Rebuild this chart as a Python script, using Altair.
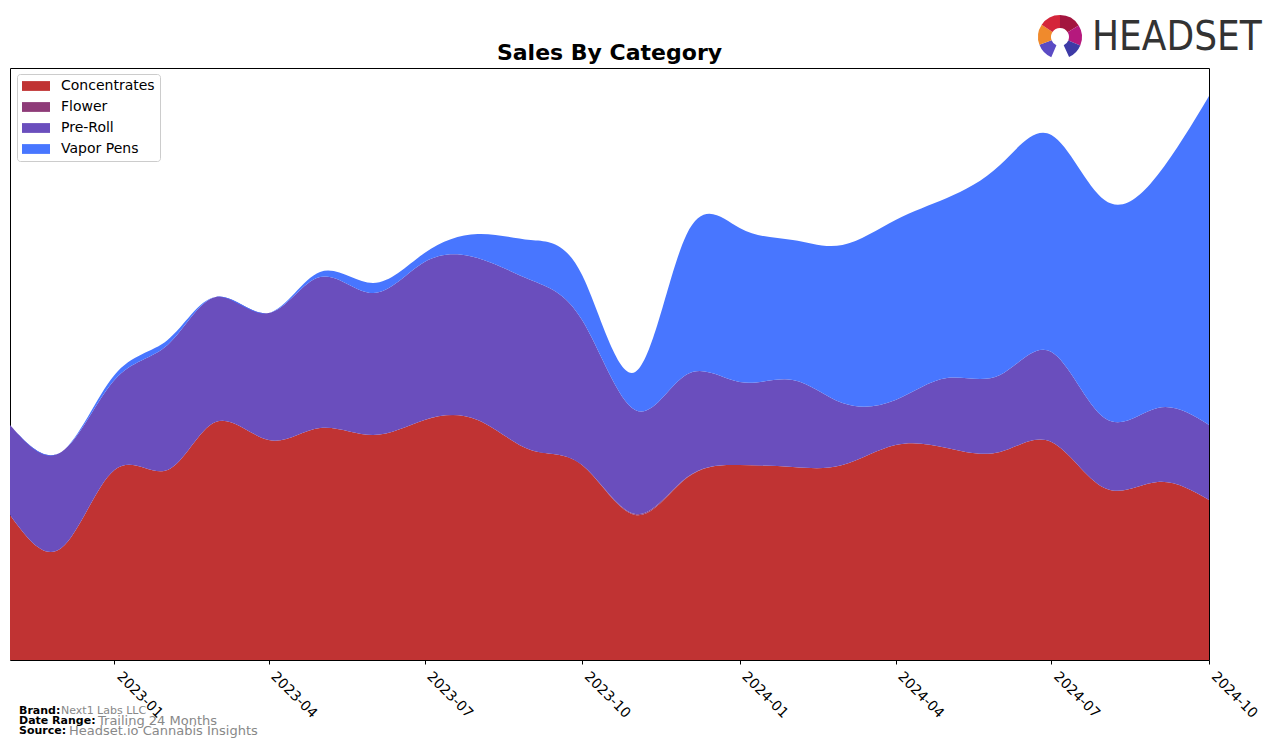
import altair as alt
import pandas as pd

months = ["2022-11-01", "2022-12-01", "2023-01-01", "2023-02-01", "2023-03-01", "2023-04-01",
          "2023-05-01", "2023-06-01", "2023-07-01", "2023-08-01", "2023-09-01", "2023-10-01",
          "2023-11-01", "2023-12-01", "2024-01-01", "2024-02-01", "2024-03-01", "2024-04-01",
          "2024-05-01", "2024-06-01", "2024-07-01", "2024-08-01", "2024-09-01", "2024-10-01"]
categories = ["Concentrates", "Flower", "Pre-Roll", "Vapor Pens"]
colors = ["#C03333", "#8E3B78", "#6A4EBD", "#4876FF"]

concentrates = [145, 112, 190, 190, 238, 220, 232, 225, 240, 240, 210, 195,
                145, 182, 195, 193, 195, 215, 212, 208, 218, 172, 178, 160]
flower = [0, 0, 0, 0, 0, 0, 0, 0, 0, 0, 0, 0,
          1, 0.5, 0, 0, 0, 0, 0, 0, 0, 0, 0, 0]
preroll = [90, 96, 90, 125, 125, 127, 151, 142, 158, 162, 170, 145,
           104, 103, 83, 87, 62, 45, 70, 77, 90, 70, 74, 75]
vapor = [0, 0, 5, 5, 0, 0, 5, 10, 9, 24, 40, 45,
         38, 140, 154, 140, 158, 180, 180, 210, 217, 218, 233, 329]

tick_dates = ["2023-01-01", "2023-04-01", "2023-07-01", "2023-10-01",
              "2024-01-01", "2024-04-01", "2024-07-01", "2024-10-01"]

chart_title = "Sales By Category"
footer_bold = ["Brand:", "Date Range:", "Source:"]
footer_text = ["Next1 Labs LLC", "Trailing 24 Months", "Headset.io Cannabis Insights"]

rows = []
for cat, vals in zip(categories, [concentrates, flower, preroll, vapor]):
    for m, v in zip(months, vals):
        rows.append({"date": m, "category": cat, "sales": v})
df = pd.DataFrame(rows)

W, H = 1199, 592

area = alt.Chart(df).mark_area(interpolate="natural").encode(
    x=alt.X("date:T",
            scale=alt.Scale(type="utc", domain=["2022-11-01", "2024-10-01"], nice=False),
            axis=alt.Axis(values=tick_dates, labelExpr="utcFormat(datum.value, '%Y-%m')",
                          title=None,
                          labelAngle=45, labelAlign="left", labelBaseline="middle",
                          labelFontSize=14, labelColor="black", tickColor="black",
                          tickSize=4, labelPadding=10, domain=False, grid=False,
                          labelOffset=4)),
    y=alt.Y("sales:Q", stack="zero", scale=alt.Scale(domain=[0, 592], nice=False),
            axis=None),
    color=alt.Color("category:N",
                    scale=alt.Scale(domain=categories, range=colors),
                    legend=alt.Legend(title=None, orient="none", legendX=7, legendY=6,
                                      strokeColor="#cccccc", fillColor="white",
                                      cornerRadius=3, padding=5,
                                      symbolType="M-1,-0.7L3,-0.7L3,0.7L-1,0.7Z",
                                      symbolSize=196, symbolStrokeWidth=0,
                                      labelFontSize=14, labelColor="black",
                                      rowPadding=7, labelOffset=25)),
    order=alt.Order("order:Q")
).transform_calculate(
    order="indexof(['Concentrates','Flower','Pre-Roll','Vapor Pens'], datum.category)"
)

title_layer = alt.Chart(pd.DataFrame({"t": [chart_title]})).mark_text(
    align="center", baseline="middle", fontSize=22, fontWeight="bold",
    font="DejaVu Sans", color="black").encode(
    x=alt.value(W / 2), y=alt.value(-15), text="t:N")

fb = pd.DataFrame({"label": footer_bold, "y": [0, 1, 2]})
ft = pd.DataFrame({"label": footer_text, "y": [0, 1, 2],
                   "xoff": [42, 79, 50], "size": [11, 13, 13]})

yscale = alt.Scale(domain=[0, 2], range=[643, 663])

footer_b = alt.Chart(fb).mark_text(align="left", baseline="middle", fontWeight="bold",
                                   fontSize=11, color="black", font="DejaVu Sans").encode(
    x=alt.value(9),
    y=alt.Y("y:Q", scale=yscale, axis=None),
    text="label:N"
)

footer_t = alt.Chart(ft).mark_text(align="left", baseline="middle",
                                   color="#888888", font="DejaVu Sans").encode(
    x=alt.X("xoff:Q", scale=alt.Scale(domain=[0, W], range=[9, 9 + W]), axis=None),
    y=alt.Y("y:Q", scale=yscale, axis=None),
    size=alt.Size("size:Q", scale=None, legend=None),
    text="label:N"
)

logo_text = alt.Chart(pd.DataFrame({"t": ["HEADSET"]})).mark_text(
    align="left", baseline="middle", fontSize=40,
    font="'DejaVu Sans Condensed', 'Liberation Sans Narrow', sans-serif",
    color="#333333").encode(x=alt.value(1082), y=alt.value(-30), text="t:N")

arc_df = pd.DataFrame({
    "t1": [3.55, 4.35, 5.3, 6.283, 7.3, 8.25],
    "t2": [4.35, 5.3, 6.283, 7.3, 8.25, 9.0],
    "c": ["#5b4bc4", "#f08a2c", "#d4253a", "#a3153f", "#b5197d", "#3d3aa6"],
})
logo_arcs = alt.Chart(arc_df).mark_arc(radius=22, radius2=9).encode(
    theta=alt.Theta("t1:Q", scale=None),
    theta2="t2:Q",
    color=alt.Color("c:N", scale=None),
    x=alt.value(1050), y=alt.value(-31)
)

chart = alt.layer(area, title_layer, footer_b, footer_t, logo_text, logo_arcs).resolve_scale(
    color="independent", x="independent", y="independent"
).properties(
    width=W, height=H,
    autosize=alt.AutoSizeParams(type="none"),
    padding={"left": 10, "top": 68, "right": 67, "bottom": 88}
).configure(
    font="DejaVu Sans",
    view=alt.ViewConfig(stroke="black", strokeWidth=1)
)

chart.save("out.html", embed_options={"renderer": "svg", "actions": False})
